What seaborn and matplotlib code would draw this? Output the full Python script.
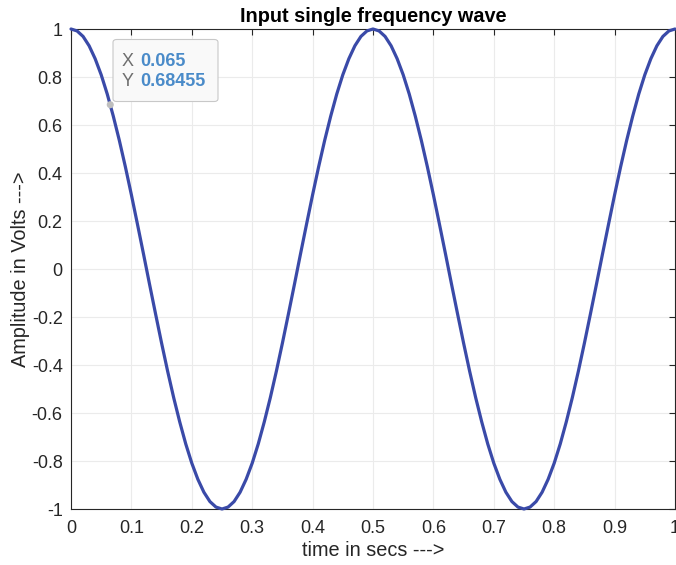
import numpy as np
import pandas as pd
import matplotlib
matplotlib.use("Agg")
import matplotlib.pyplot as plt
import seaborn as sns
from matplotlib.patches import FancyBboxPatch

time_s = [round(0.01 * i, 2) for i in range(101)]
amplitude = [1.0, 0.992, 0.969, 0.930, 0.876, 0.809, 0.729, 0.637, 0.536, 0.426,
             0.309, 0.187, 0.063, -0.063, -0.187, -0.309, -0.426, -0.536, -0.637,
             -0.729, -0.809, -0.876, -0.930, -0.969, -0.992,
             -1.0, -0.992, -0.969, -0.930, -0.876, -0.809, -0.729, -0.637, -0.536,
             -0.426, -0.309, -0.187, -0.063, 0.063, 0.187, 0.309, 0.426, 0.536,
             0.637, 0.729, 0.809, 0.876, 0.930, 0.969, 0.992,
             1.0, 0.992, 0.969, 0.930, 0.876, 0.809, 0.729, 0.637, 0.536, 0.426,
             0.309, 0.187, 0.063, -0.063, -0.187, -0.309, -0.426, -0.536, -0.637,
             -0.729, -0.809, -0.876, -0.930, -0.969, -0.992,
             -1.0, -0.992, -0.969, -0.930, -0.876, -0.809, -0.729, -0.637, -0.536,
             -0.426, -0.309, -0.187, -0.063, 0.063, 0.187, 0.309, 0.426, 0.536,
             0.637, 0.729, 0.809, 0.876, 0.930, 0.969, 0.992, 1.0]
x_ticks = [0, 0.1, 0.2, 0.3, 0.4, 0.5, 0.6, 0.7, 0.8, 0.9, 1]
x_tick_labels = ["0", "0.1", "0.2", "0.3", "0.4", "0.5", "0.6", "0.7", "0.8", "0.9", "1"]
y_ticks = [-1, -0.8, -0.6, -0.4, -0.2, 0, 0.2, 0.4, 0.6, 0.8, 1]
y_tick_labels = ["-1", "-0.8", "-0.6", "-0.4", "-0.2", "0", "0.2", "0.4", "0.6", "0.8", "1"]
tip_x = 0.065
tip_y = 0.68455

df = pd.DataFrame({"t": time_s, "y": amplitude})

sns.set_theme(style="white")
plt.rcParams["font.family"] = ["Liberation Sans", "DejaVu Sans"]

fig = plt.figure(figsize=(6.76, 5.65), dpi=100)
ax = fig.add_axes([71 / 676, 1 - 509 / 565, (675 - 71) / 676, (509 - 29) / 565])

sns.lineplot(data=df, x="t", y="y", ax=ax, color="#3A4AA8", linewidth=2.3, clip_on=False, zorder=3)

ax.set_xlim(0, 1)
ax.set_ylim(-1, 1)
ax.set_xticks(x_ticks)
ax.set_xticklabels(x_tick_labels)
ax.set_yticks(y_ticks)
ax.set_yticklabels(y_tick_labels)
ax.grid(True, color="#EBEBEB", linewidth=0.8)
ax.set_axisbelow(True)
for s in ax.spines.values():
    s.set_visible(True)
    s.set_color("#262626")
    s.set_linewidth(0.8)
ax.tick_params(direction="in", length=4, width=0.8, color="#262626",
               top=True, right=True, labelsize=13, labelcolor="#262626")
ax.tick_params(axis="x", pad=8)
ax.tick_params(axis="y", pad=6)

ax.set_title("Input single frequency wave", fontsize=14.3, fontweight="bold", pad=5, color="black")
ax.set_xlabel("time in secs --->", fontsize=14.3, color="#262626", labelpad=3)
ax.set_ylabel("Amplitude in Volts --->", fontsize=14.3, color="#262626", labelpad=1)

# data tip
ax.scatter([tip_x], [tip_y], s=26, color="#BEBEBE", edgecolor="none", zorder=5, clip_on=False)
to_ax = lambda px, py: ((px - 71) / (675 - 71), (509 - py) / (509 - 29))
x0, y0 = to_ax(113, 101.5)
x1, y1 = to_ax(218, 39.5)
box = FancyBboxPatch((x0, y0), x1 - x0, y1 - y0, boxstyle="round,pad=0,rounding_size=0.006",
                     transform=ax.transAxes, facecolor="#F9F9F9", edgecolor="#C8C8C8",
                     linewidth=0.8, zorder=6)
ax.add_patch(box)
tx, ty = to_ax(121.5, 61.5)
ax.text(tx, ty, "X", transform=ax.transAxes, fontsize=13, color="#6E6E6E", va="center", zorder=7)
tx2, _ = to_ax(140, 61.5)
ax.text(tx2, ty, f"{tip_x:g}", transform=ax.transAxes, fontsize=13, color="#4A8BC9",
        fontweight="bold", va="center", zorder=7)
_, ty2 = to_ax(121.5, 82)
ax.text(tx, ty2, "Y", transform=ax.transAxes, fontsize=13, color="#6E6E6E", va="center", zorder=7)
ax.text(tx2, ty2, f"{tip_y:g}", transform=ax.transAxes, fontsize=13, color="#4A8BC9",
        fontweight="bold", va="center", zorder=7)

fig.savefig("out.png", dpi=100, facecolor="white")
